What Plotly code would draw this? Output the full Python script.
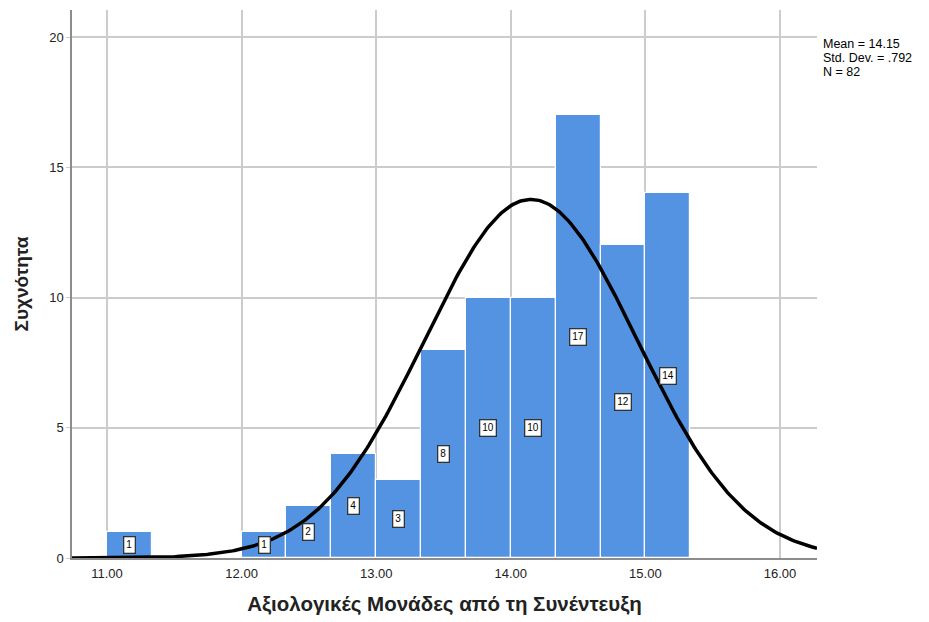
import numpy as np
import plotly.graph_objects as go

bin_starts = [11.0, 12.0, 12.3333, 12.6667, 13.0, 13.3333, 13.6667, 14.0, 14.3333, 14.6667, 15.0]
counts = [1, 1, 2, 4, 3, 8, 10, 10, 17, 12, 14]
bin_width = 1 / 3
mean_val = 14.15
sd_val = 0.792
n_val = 82
x_ticks = [11, 12, 13, 14, 15, 16]
y_ticks = [0, 5, 10, 15, 20]
stats_lines = [f"Mean = {mean_val:.2f}", f"Std. Dev. = .{int(round(sd_val*1000))}", f"N = {n_val}"]

x_range = [10.74, 16.275]
y_range = [0, 21.04]

centers = [s + bin_width / 2 for s in bin_starts]

fig = go.Figure()
fig.add_trace(go.Bar(
    x=centers, y=counts, width=bin_width,
    marker=dict(color="#5493e2", line=dict(color="#ffffff", width=1.2)),
    hoverinfo="x+y", showlegend=False,
))

xs = np.linspace(x_range[0], x_range[1], 400)
ys = n_val * bin_width * np.exp(-0.5 * ((xs - mean_val) / sd_val) ** 2) / (sd_val * np.sqrt(2 * np.pi))
fig.add_trace(go.Scatter(x=xs, y=ys, mode="lines", line=dict(color="#000000", width=3.5),
                         showlegend=False, hoverinfo="skip"))

annotations = []
for c, v in zip(centers, counts):
    annotations.append(dict(
        x=c, y=v / 2, xref="x", yref="y", text=str(v), showarrow=False,
        font=dict(family="Liberation Sans, Arial", size=10, color="#000000"),
        bgcolor="#ffffff", bordercolor="#333333", borderwidth=1.3, borderpad=2,
    ))
for i, line in enumerate(stats_lines):
    annotations.append(dict(
        x=1.006, y=0.954 - i * 14 / 548, xref="paper", yref="paper", xanchor="left", yanchor="top",
        align="left", showarrow=False, text=line,
        font=dict(family="Liberation Sans, Arial", size=12.5, color="#000000"),
    ))

fig.update_layout(
    width=921, height=614,
    margin=dict(l=64, r=112, t=2, b=64),
    paper_bgcolor="#ffffff", plot_bgcolor="#ffffff",
    font=dict(family="Liberation Sans, Arial", size=13, color="#222222"),
    bargap=0,
    annotations=annotations,
    xaxis=dict(
        range=x_range, tickvals=x_ticks, ticktext=[f"{t:.2f}" for t in x_ticks],
        showgrid=True, gridcolor="#cccccc", gridwidth=1.5,
        showline=True, linecolor="#8c8c8c", linewidth=1.5,
        ticks="outside", ticklen=3, tickcolor="#ffffff", zeroline=False,
        title=dict(text="<b>Αξιολογικές Μονάδες από τη Συνέντευξη</b>",
                   font=dict(size=20.5, color="#222222"), standoff=16),
    ),
    yaxis=dict(
        range=y_range, tickvals=y_ticks,
        showgrid=True, gridcolor="#cccccc", gridwidth=1.5,
        showline=True, linecolor="#8c8c8c", linewidth=1.5,
        ticks="outside", ticklen=4, tickcolor="#cccccc", zeroline=False,
        title=dict(text="<b>Συχνότητα</b>", font=dict(size=19, color="#222222"), standoff=16),
    ),
)

fig.write_html("out.html")
